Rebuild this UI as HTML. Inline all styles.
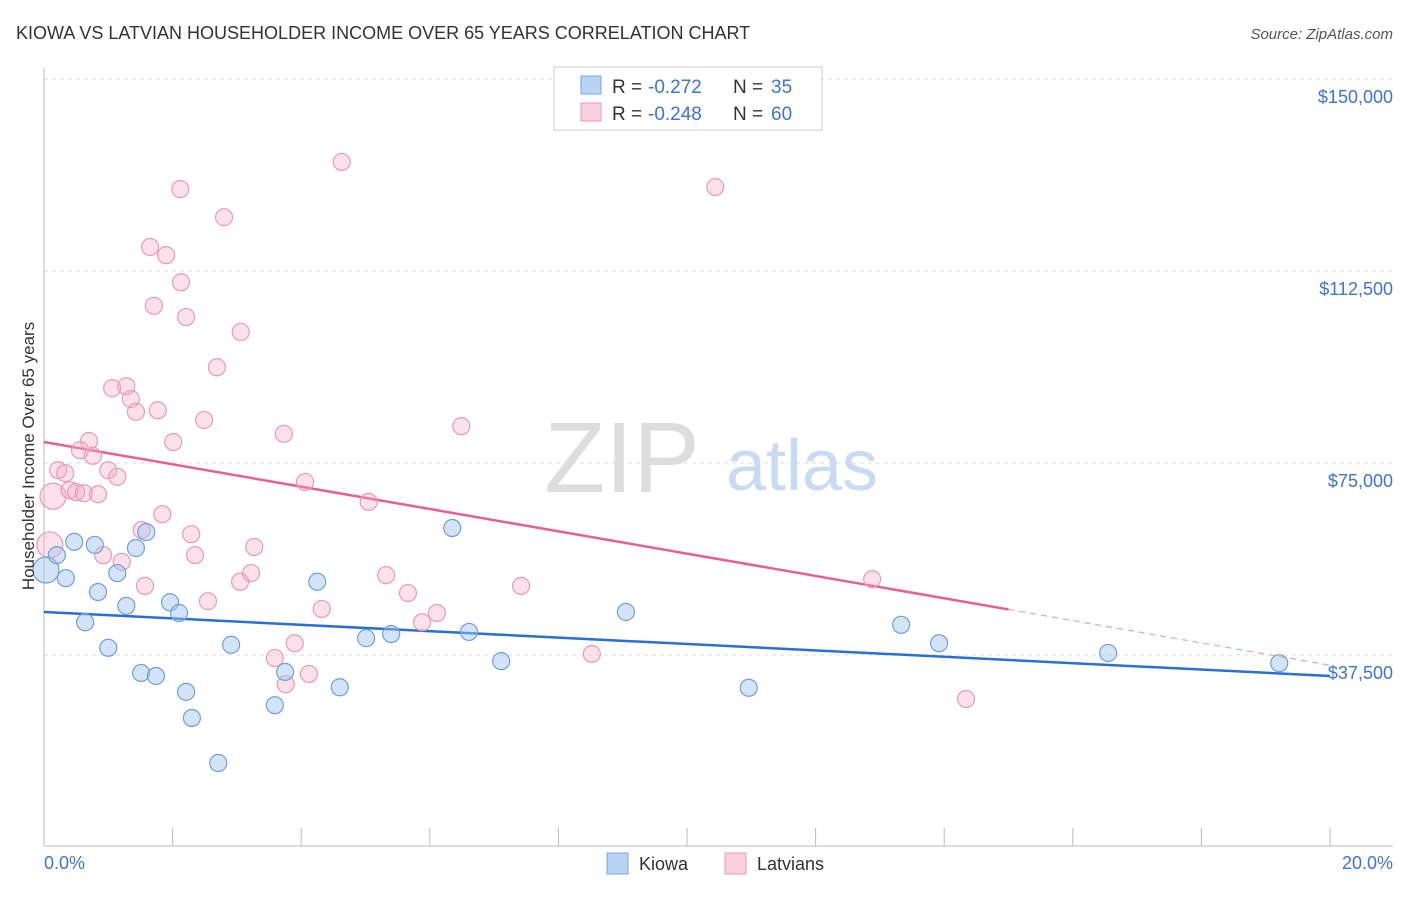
<!DOCTYPE html>
<html><head><meta charset="utf-8"><style>
body{margin:0;background:#fff;font-family:"Liberation Sans",sans-serif;}
svg text{font-family:"Liberation Sans",sans-serif;}
</style></head><body>
<svg id="chart" width="1406" height="892" xmlns="http://www.w3.org/2000/svg">
<text x="16" y="39" font-size="18" fill="#333">KIOWA VS LATVIAN HOUSEHOLDER INCOME OVER 65 YEARS CORRELATION CHART</text>
<text x="1393" y="39" font-size="15" fill="#555" text-anchor="end" font-style="italic">Source: ZipAtlas.com</text>
<g>
<text x="622" y="492" font-size="100" fill="#ddd" font-family="Liberation Serif,serif" text-anchor="middle">ZIP</text>
<text x="802" y="490" font-size="72" fill="#c9dbf3" text-anchor="middle">atlas</text>
</g>
<g id="grid"></g>
<g id="axes"></g>
<g id="lines"></g>
<g id="pts"></g>
<text transform="translate(34,456) rotate(-90)" font-size="17" fill="#333" text-anchor="middle">Householder Income Over 65 years</text>
<text x="44" y="869" font-size="18" fill="#3f75d0">0.0%</text>
<text x="1393" y="869" font-size="18" fill="#3f75d0" text-anchor="end">20.0%</text>
<g font-size="19">
<rect x="554" y="67" width="268" height="63" fill="#fff" stroke="#ccc"/>
<rect x="581" y="76" width="20" height="18" fill="#b9d3f5" stroke="#7aa6e0"/>
<rect x="581" y="103" width="20" height="18" fill="#fbd0de" stroke="#e89ab5"/>
<text x="612" y="93" fill="#333">R =</text><text x="648" y="93" fill="#3f75d0">-0.272</text>
<text x="733" y="93" fill="#333">N =</text><text x="771" y="93" fill="#3f75d0">35</text>
<text x="612" y="120" fill="#333">R =</text><text x="648" y="120" fill="#3f75d0">-0.248</text>
<text x="733" y="120" fill="#333">N =</text><text x="771" y="120" fill="#3f75d0">60</text>
</g>
<g>
<rect x="607" y="853" width="21" height="21" fill="#b9d3f5" stroke="#7aa6e0"/>
<text x="639" y="870" font-size="18" fill="#333">Kiowa</text>
<rect x="725" y="853" width="21" height="21" fill="#fbd0de" stroke="#e89ab5"/>
<text x="757" y="870" font-size="18" fill="#333">Latvians</text>
</g>
</svg>
<script>
const yTicks=[37500,75000,112500,150000];
const yTickLabels=["$37,500","$75,000","$112,500","$150,000"];
const kiowaX=[.03,.20,.34,.47,.64,.79,.84,1.00,1.14,1.28,1.43,1.51,1.59,1.74,1.96,2.10,2.21,2.30,2.71,2.91,3.59,3.75,4.25,4.60,5.01,5.40,6.35,6.61,7.11,9.05,10.96,13.33,13.92,16.55,19.21];
const kiowaY=[54.1,57.0,52.5,59.6,43.9,59.0,49.8,38.9,53.5,47.1,58.4,34.0,61.5,33.4,47.8,45.7,30.3,25.2,16.4,39.5,27.7,34.2,51.8,31.2,40.8,41.6,62.3,42.0,36.3,45.9,31.1,43.4,39.8,37.9,35.9];
const latX=[.09,.14,.22,.33,.40,.50,.62,.70,.56,.76,.84,.92,1.00,1.06,1.14,1.21,1.28,1.35,1.43,1.52,1.57,1.65,1.71,1.77,1.84,2.01,2.12,2.13,2.21,2.29,2.35,2.49,2.55,2.69,2.80,3.06,3.05,3.22,3.27,3.59,3.73,3.76,3.90,4.06,4.12,4.32,4.63,5.05,5.32,5.66,5.88,6.11,6.49,7.42,8.52,10.44,12.88,14.34,1.90];
const latY=[59.0,68.5,73.6,73.0,69.7,69.3,69.1,79.3,77.5,76.4,68.9,57.0,73.6,89.6,72.3,55.7,90.0,87.5,85.0,61.9,51.0,117.2,105.7,85.3,65.0,79.1,128.5,110.3,103.5,61.1,57.0,83.4,48.0,93.7,123.0,100.6,51.8,53.5,58.6,36.9,80.7,31.8,39.8,71.3,33.8,46.5,133.8,67.4,53.1,49.6,43.9,45.7,82.2,51.0,37.7,128.9,52.3,28.9,115.6];
const kiowaTrend=[45.9,33.4];
const latTrend=[79.1,35.5];
const latSolidEnd=15;
const bigKiowa=[0], bigLat=[0,1];
const NS="http://www.w3.org/2000/svg";
const X=p=>44+p/20*1286;
const Y=v=>847-v/37.5*192;
function mk(t,a,par){const e=document.createElementNS(NS,t);for(const k in a)e.setAttribute(k,a[k]);document.getElementById(par).appendChild(e);return e;}
yTicks.forEach((t,i)=>{
 const l=mk('line',{x1:44,x2:1393,y1:Y(t/1000),y2:Y(t/1000),stroke:'#ddd','stroke-dasharray':'4,4'},'grid');
 
 
 const tx=mk('text',{x:1393,y:Y(t/1000)+24,'font-size':18,fill:'#3f75d0','text-anchor':'end'},'grid');
 tx.textContent=yTickLabels[i];
 
 
});
const ax=mk('line',{x1:44,x2:44,y1:68,y2:846,stroke:'#bbb'},'axes');


const bx=mk('line',{x1:44,x2:1393,y1:846,y2:846,stroke:'#bbb'},'axes');


for(let i=0;i<=10;i++){const t=mk('line',{x1:X(i*2),x2:X(i*2),y1:828,y2:846,stroke:'#bbb'},'axes');
 
 }
const bl=mk('line',{x1:X(0),y1:Y(kiowaTrend[0]),x2:X(20),y2:Y(kiowaTrend[1]),stroke:'#2a6fd6','stroke-width':2.5},'lines');


const ly=p=>latTrend[0]+(latTrend[1]-latTrend[0])*p/20;
const pl=mk('line',{x1:X(0),y1:Y(ly(0)),x2:X(latSolidEnd),y2:Y(ly(latSolidEnd)),stroke:'#e8608f','stroke-width':2.5},'lines');


const pd=mk('line',{x1:X(latSolidEnd),y1:Y(ly(latSolidEnd)),x2:X(20),y2:Y(ly(20)),stroke:'#e8a0b8','stroke-width':1.2,'stroke-dasharray':'6,5'},'lines');


latX.forEach((x,i)=>{const c=mk('circle',{cx:X(x),cy:Y(latY[i]),r:bigLat.includes(i)?13:8.5,fill:'rgba(245,170,195,0.35)',stroke:'#e89ab5','stroke-width':1.2},'pts');
 
 });
kiowaX.forEach((x,i)=>{const c=mk('circle',{cx:X(x),cy:Y(kiowaY[i]),r:bigKiowa.includes(i)?13:8.5,fill:'rgba(160,195,240,0.45)',stroke:'#6f9fdc','stroke-width':1.2},'pts');
 
 });
</script>
</body></html>
